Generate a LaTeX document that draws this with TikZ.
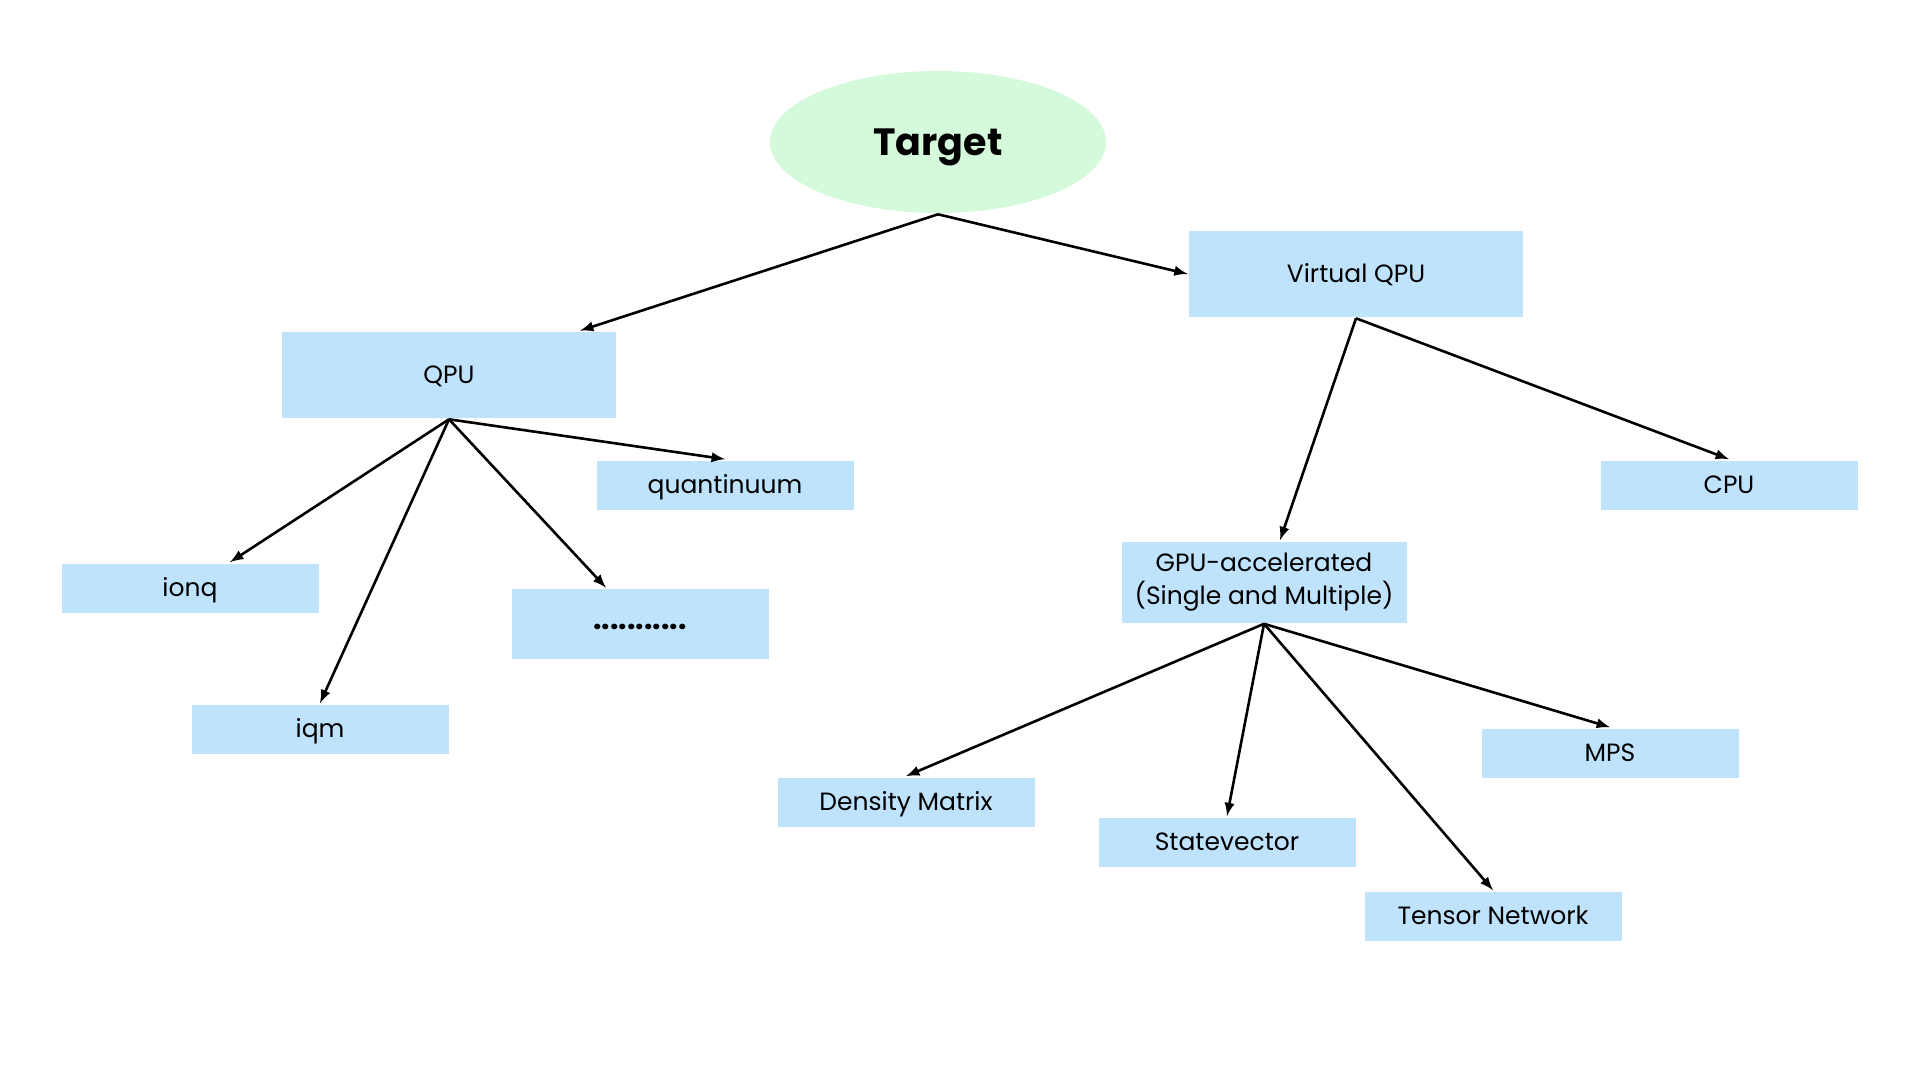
\documentclass[tikz,border=0pt]{standalone}
\usepackage{fontspec}
\setmainfont{Poppins}
\usepackage{tikz}
\usetikzlibrary{arrows,shapes.geometric}
\usetikzlibrary{calc}

\definecolor{boxblue}{HTML}{BFE3FC}
\definecolor{rootgreen}{HTML}{D5FADB}

\tikzset{
  box/.style={rectangle, fill=boxblue, inner sep=0pt, align=center,
    text height=8.8pt, text depth=0pt,
    font=\fontsize{12.5}{16.5}\selectfont},
  leaf/.style={box, minimum width=128.5pt, minimum height=24.5pt}
}

\begin{document}
\begin{tikzpicture}[x=0.5pt, y=-0.5pt, >=latex, line width=1.3pt]
\useasboundingbox (0,0) rectangle (1920,1080);
\node (t) [ellipse, fill=rootgreen, minimum width=168pt, minimum height=71pt,
  text height=13.3pt, text depth=0pt,
  font=\fontsize{19}{22}\selectfont\bfseries] at (938,142) {Target};
\node (qpu) [box, minimum width=167pt, minimum height=43pt] at (449,375) {QPU};
\node (vqpu) [box, minimum width=167pt, minimum height=43pt] at (1356,274) {Virtual QPU};
\node (quant) [leaf] at (725,485) {quantinuum};
\node (ionq) [leaf] at (190,588) {ionq};
\node (iqm) [leaf] at (320,729) {iqm};
\node (dots) [leaf, minimum height=35pt, text height=5pt,
  font=\fontsize{15}{18}\selectfont\bfseries] at (640,624) {...........};
\node (cpu) [leaf] at (1729,485) {CPU};
\node (gpu) [box, minimum width=142.5pt, minimum height=40.5pt,
  text height=, text depth=] at (1264,582)
  {GPU-accelerated\\(Single and Multiple)};
\node (dm) [leaf] at (906,802) {Density Matrix};
\node (sv) [leaf] at (1227,842) {Statevector};
\node (mps) [leaf] at (1610,753) {MPS};
\node (tn) [leaf] at (1493,916) {Tensor Network};

\path[->]
(t.south) edge ([xshift=65.5pt]qpu.north)
          edge (vqpu.west)
(qpu.south) edge ([xshift=20pt]ionq.north)
            edge (iqm.north)
            edge ([xshift=-17pt]dots.north)
            edge (quant.north)
(vqpu.south) edge ([xshift=8pt]gpu.north)
             edge (cpu.north)
(gpu.south) edge (dm.north)
            edge (sv.north)
            edge (tn.north)
            edge (mps.north)
;
\end{tikzpicture}
\end{document}
